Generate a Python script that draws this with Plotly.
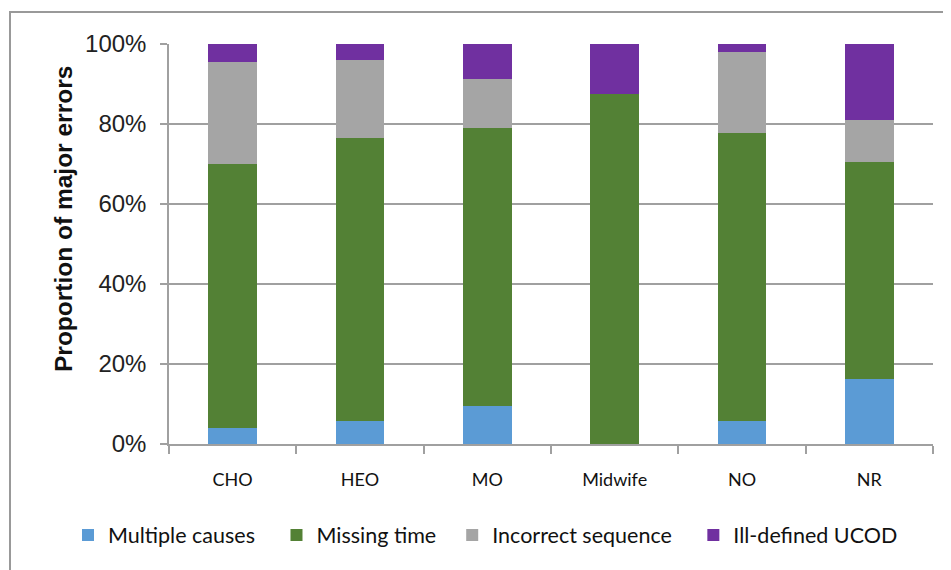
import plotly.graph_objects as go

categories = ["CHO", "HEO", "MO", "Midwife", "NO", "NR"]
multiple_causes = [4.0, 5.8, 9.5, 0.0, 5.8, 16.2]
missing_time = [66.0, 70.8, 69.5, 87.5, 72.0, 54.3]
incorrect_sequence = [25.5, 19.4, 12.2, 0.0, 20.1, 10.4]
ill_defined_ucod = [4.5, 4.0, 8.8, 12.5, 2.1, 19.1]
y_tick_vals = [0, 20, 40, 60, 80, 100]
y_tick_text = ["0%", "20%", "40%", "60%", "80%", "100%"]
series_names = ["Multiple causes", "Missing time", "Incorrect sequence", "Ill-defined UCOD"]
series_colors = ["#5B9BD5", "#538135", "#A5A5A5", "#7030A0"]

# extra legend spacing (non-breaking spaces) to match the reference's item spacing
legend_pad = [3, 2, 3, 0]

fig = go.Figure()
for name, vals, col, pad in zip(series_names,
                                [multiple_causes, missing_time, incorrect_sequence, ill_defined_ucod],
                                series_colors, legend_pad):
    fig.add_trace(go.Bar(
        x=categories, y=vals, name=name + "\u00a0" * pad,
        marker=dict(color=col, line=dict(width=0)),
        hovertemplate=name + ": %{y:.1f}%<extra></extra>",
    ))

# page has an 8px body margin; sizes chosen so the figure fits the 951x570 window
W, H = 943, 562
L, R, T, B = 161, 18, 36, 126
pw, ph = W - L - R, H - T - B
OFF = 8

fig.update_layout(
    barmode="stack",
    bargap=0.62,
    width=W, height=H,
    margin=dict(l=L, r=R, t=T, b=B, pad=0),
    paper_bgcolor="white",
    plot_bgcolor="white",
    showlegend=True,
    legend=dict(
        orientation="h",
        x=(68 - OFF - L) / pw, xanchor="left",
        y=(H - B - (535 - OFF)) / ph, yanchor="middle",
        font=dict(family="Lato, Open Sans, sans-serif", size=21.5, color="#111"),
        itemwidth=30,
        traceorder="normal",
    ),
    xaxis=dict(
        showline=True, linecolor="#a0a0a0", linewidth=1.5,
        ticks="outside", tickson="boundaries", ticklen=8,
        tickcolor="#a0a0a0", tickwidth=1.5,
        tickfont=dict(family="Lato, Open Sans, sans-serif", size=18, color="#111"),
        ticklabelstandoff=19,
        showgrid=False,
    ),
    yaxis=dict(
        range=[0, 100],
        tickvals=y_tick_vals,
        ticktext=y_tick_text,
        showline=True, linecolor="#a0a0a0", linewidth=1.5,
        ticks="outside", ticklen=7, tickcolor="#a0a0a0", tickwidth=1.5,
        tickfont=dict(family="Liberation Sans, Arial, sans-serif", size=24, color="#222"),
        ticklabelstandoff=9,
        showgrid=True, gridcolor="#a0a0a0", gridwidth=1.5,
        zeroline=False,
    ),
    annotations=[
        dict(
            text="<b>Proportion of major errors</b>",
            xref="paper", yref="paper",
            x=(63 - OFF - L) / pw, y=1 - (219 - OFF - T) / ph,
            xanchor="center", yanchor="middle",
            textangle=-90, showarrow=False,
            font=dict(family="Liberation Sans, Arial, sans-serif", size=24.5, color="#111"),
        ),
    ],
    shapes=[
        dict(type="rect", xref="paper", yref="paper",
             x0=(10 - OFF - L) / pw, x1=(W + 30 - L) / pw,
             y0=-0.6, y1=1 + (T - (12 - OFF)) / ph,
             line=dict(color="#999999", width=2), fillcolor="rgba(0,0,0,0)",
             layer="below"),
    ],
)

fig.write_html("out.html")
